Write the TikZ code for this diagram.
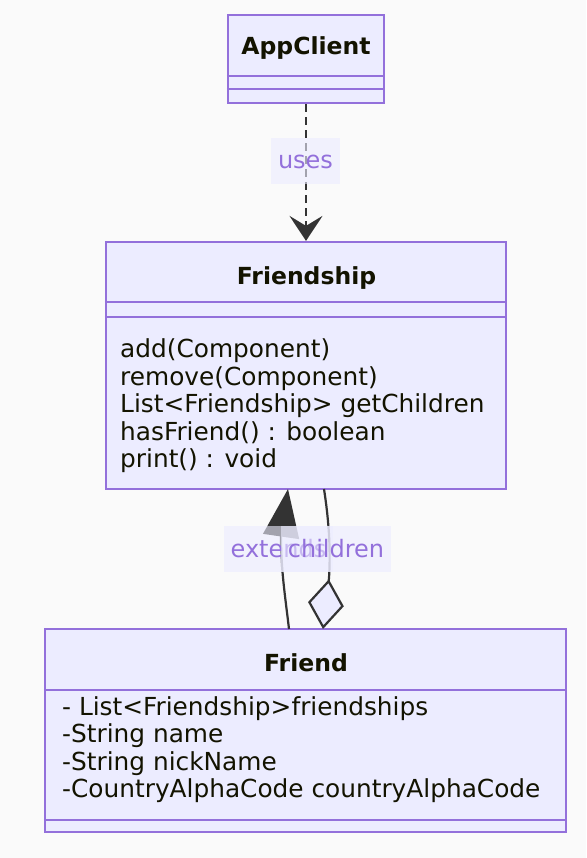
\documentclass[tikz,border=0pt]{standalone}
\usepackage{fontspec}
\setmainfont{DejaVu Sans}
\usetikzlibrary{arrows.meta}
\definecolor{canvas}{RGB}{250,250,250}
\definecolor{boxfill}{RGB}{236,236,255}
\definecolor{boxline}{RGB}{147,112,219}
\definecolor{edgecol}{RGB}{51,51,51}
\definecolor{txt}{RGB}{19,19,0}
\definecolor{lbltxt}{RGB}{147,112,219}
\begin{document}
\begin{tikzpicture}[x=1pt,y=-1pt,
  classbox/.style={draw=boxline, fill=boxfill, line width=2.2pt, rectangle, inner sep=0pt},
  divider/.style={draw=boxline, line width=2.2pt},
  titletext/.style={font=\fontsize{23.5}{27}\selectfont\bfseries, text=txt, inner sep=0pt, anchor=base},
  membertext/.style={font=\fontsize{24.8}{27.5}\selectfont, text=txt, inner sep=0pt, anchor=base west},
  edgeline/.style={draw=edgecol, line width=2.2pt},
  edgelabel/.style={font=\fontsize{24}{28}\selectfont, text=lbltxt, fill=boxfill, fill opacity=0.6, text opacity=1, inner xsep=7pt, inner ysep=0pt, text height=22pt, text depth=6pt, minimum height=46pt},
]
\useasboundingbox[fill=canvas] (0,0) rectangle (586,858);

% AppClient
\node[classbox, minimum width=156pt, minimum height=88pt] (app) at (306,59) {};
\draw[divider] (app.west |- 0,76) -- (app.east |- 0,76);
\draw[divider] (app.west |- 0,89) -- (app.east |- 0,89);
\node[titletext] (appname) at (306,55) {AppClient};

% Friendship
\node[classbox, minimum width=400pt, minimum height=247pt] (fs) at (306,365.5) {};
\draw[divider] (fs.west |- 0,302) -- (fs.east |- 0,302);
\draw[divider] (fs.west |- 0,317) -- (fs.east |- 0,317);
\node[titletext] (fsname) at (306.5,284) {Friendship};
\node[membertext] (m1) at (120,357.7) {add(Component)};
\node[membertext] (m2) at (120,385) {remove(Component)};
\node[membertext] (m3) at (120,412.5) {List<Friendship> getChildren};
\node[membertext] (m4) at (120,440) {hasFriend() : boolean};
\node[membertext] (m5) at (120,467.3) {print() : void};

% Friend
\node[classbox, minimum width=521pt, minimum height=203pt] (fr) at (305.5,730.5) {};
\draw[divider] (fr.west |- 0,690) -- (fr.east |- 0,690);
\draw[divider] (fr.west |- 0,820) -- (fr.east |- 0,820);
\node[titletext] (frname) at (306,671.5) {Friend};
\node[membertext] (a1) at (62,715) {- List<Friendship>friendships};
\node[membertext] (a2) at (62,742.5) {-String name};
\node[membertext] (a3) at (62,770) {-String nickName};
\node[membertext] (a4) at (62,797.5) {-CountryAlphaCode countryAlphaCode};

% connectors
\coordinate (extS) at (289,629);
\coordinate (extE) at (288,489);
\coordinate (chS) at (323,629);
\coordinate (chE) at (324,489);

\draw[edgeline, line width=2.6pt, dash pattern=on 8pt off 5pt,
  -{Stealth[length=25pt,width=33pt,inset=10pt]}] (app.south) -- (fs.north);
\draw[edgeline, -{Triangle[length=48pt,width=36pt]}]
  (extS) .. controls (285,595) and (281,570) .. (281,537) -- (extE);
\draw[edgeline, {Diamond[length=50pt,width=36pt,fill=boxfill]}-]
  (chS) -- (329,578) .. controls (331,545) and (328,515) .. (chE);

% labels
\node[edgelabel] (lu) at (305.5,161) {uses};
\node[edgelabel] (le) at (278.5,549) {extends};
\node[edgelabel] (lc) at (336,549) {children};
\end{tikzpicture}
\end{document}
